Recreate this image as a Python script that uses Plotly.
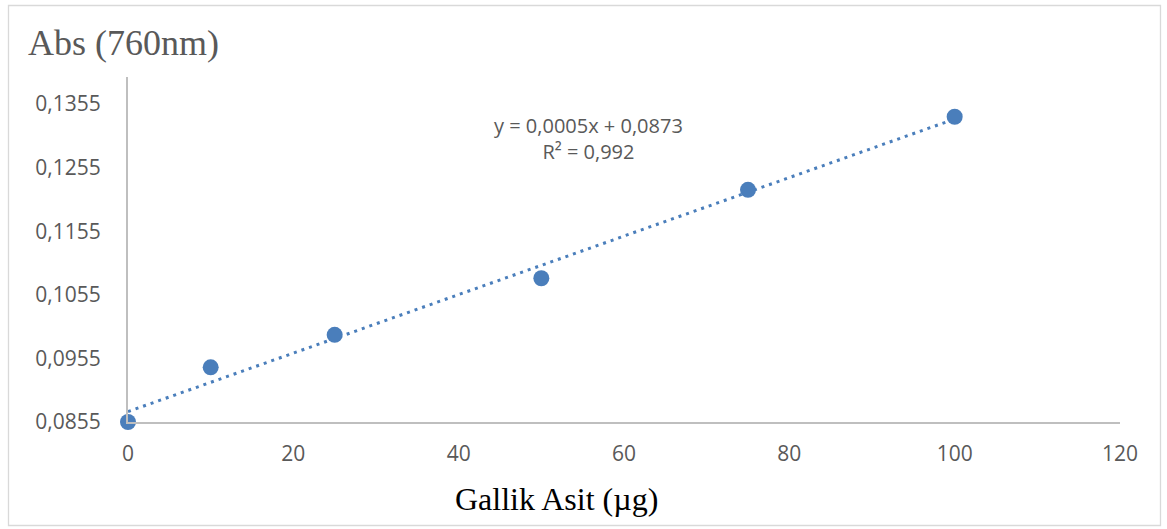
import numpy as np
import plotly.graph_objects as go

gallic_ug = [0, 10, 25, 50, 75, 100]
absorbance = [0.0855, 0.0941, 0.0992, 0.1081, 0.1220, 0.1335]
y_ticks = [0.0855, 0.0955, 0.1055, 0.1155, 0.1255, 0.1355]
y_tick_labels = ["0,0855", "0,0955", "0,1055", "0,1155", "0,1255", "0,1355"]
x_ticks = [0, 20, 40, 60, 80, 100, 120]
eq_text = "y = 0,0005x + 0,0873<br>R² = 0,992"

slope, intercept = np.polyfit(gallic_ug, absorbance, 1)
trend_x = [min(gallic_ug), max(gallic_ug)]
trend_y = [slope * v + intercept for v in trend_x]

BLUE = "#4a7ebb"
W, H = 1167, 529
L, R, T, B = 128, 47, 77, 107
pw, ph = W - L - R, H - T - B

fig = go.Figure()
fig.add_trace(go.Scatter(x=trend_x, y=trend_y, mode="lines",
                         line=dict(color=BLUE, width=3, dash="3px,5px"),
                         hoverinfo="skip", showlegend=False, cliponaxis=False))
fig.add_trace(go.Scatter(x=gallic_ug, y=absorbance, mode="markers",
                         marker=dict(color=BLUE, size=16), showlegend=False,
                         cliponaxis=False))

def px_x(p):
    return (p - L) / pw

def px_y(p):
    return (H - B - p) / ph

fig.add_shape(type="rect", xref="paper", yref="paper",
              x0=px_x(8.5), x1=px_x(1160.5), y0=px_y(525.5), y1=px_y(5.5),
              line=dict(color="#d9d9d9", width=1.3), layer="below")

fig.add_annotation(xref="paper", yref="paper", x=px_x(26), y=px_y(43),
                   xanchor="left", yanchor="middle", showarrow=False,
                   text="Abs (760nm)",
                   font=dict(family="Liberation Serif", size=36, color="#595959"))
fig.add_annotation(xref="paper", yref="paper", x=px_x(556), y=px_y(499),
                   xanchor="center", yanchor="middle", showarrow=False,
                   text="Gallik Asit (µg)",
                   font=dict(family="Liberation Serif", size=32, color="#000000"))
fig.add_annotation(xref="paper", yref="paper", x=px_x(588), y=px_y(138),
                   xanchor="center", yanchor="middle", showarrow=False,
                   text=eq_text, align="center",
                   font=dict(family="Open Sans", size=20, color="#595959"))

fig.update_layout(
    width=W, height=H,
    margin=dict(l=L, r=R, t=T, b=B),
    paper_bgcolor="white", plot_bgcolor="white",
    font=dict(family="Open Sans", size=21, color="#595959"),
    xaxis=dict(range=[0, 120], tickvals=x_ticks, showgrid=False, zeroline=False,
               showline=True, linecolor="#bfbfbf", linewidth=2, ticks="",
               ticklabelstandoff=12, tickfont=dict(size=21, color="#595959")),
    yaxis=dict(range=[0.0855, 0.0855 + 345 / 6360], tickvals=y_ticks,
               ticktext=y_tick_labels, showgrid=False, zeroline=False,
               showline=True, linecolor="#bfbfbf", linewidth=2, ticks="",
               ticklabelstandoff=21, tickfont=dict(size=21, color="#595959")),
)

fig.write_html("out.html")
